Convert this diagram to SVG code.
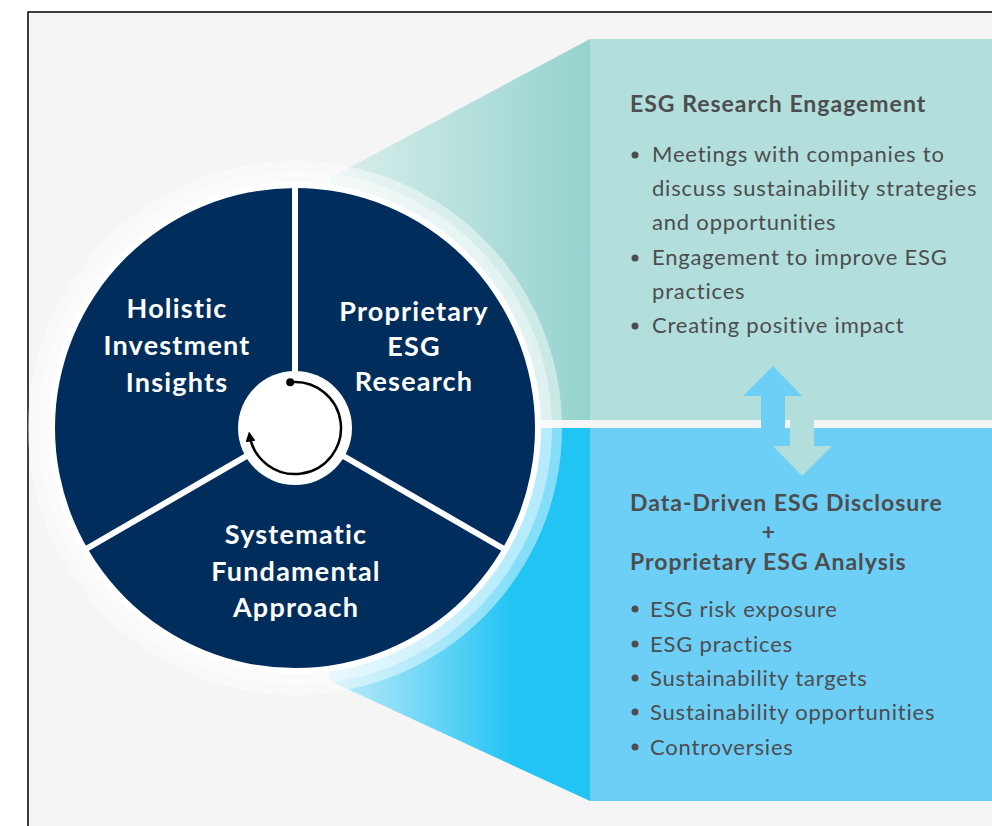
<svg xmlns="http://www.w3.org/2000/svg" width="992" height="826" viewBox="0 0 992 826">
<style>
.seg{font-family:Lato,"Open Sans","Liberation Sans",sans-serif;font-weight:700;font-size:27px;letter-spacing:1.2px;fill:#ffffff;text-anchor:middle}
.hd{font-family:Lato,"Open Sans","Liberation Sans",sans-serif;font-weight:700;font-size:23px;letter-spacing:1px;fill:#4d4d4f}
.bl{font-family:Lato,"Open Sans","Liberation Sans",sans-serif;font-weight:400;font-size:22px;letter-spacing:0.8px;fill:#4d4d4f}
.dot{fill:#4d4d4f}
</style>
<defs>
<linearGradient id="gTop" gradientUnits="userSpaceOnUse" x1="330" y1="0" x2="590" y2="0">
<stop offset="0" stop-color="#dbefed"/>
<stop offset="1" stop-color="#94d3cd"/>
</linearGradient>
<linearGradient id="gBot" gradientUnits="userSpaceOnUse" x1="330" y1="0" x2="590" y2="0">
<stop offset="0" stop-color="#c4ecf9"/>
<stop offset="0.7" stop-color="#22c4f4"/>
<stop offset="1" stop-color="#22c4f4"/>
</linearGradient>
<marker id="ah" viewBox="0 0 10 10" refX="6" refY="5" markerWidth="10" markerHeight="10" markerUnits="userSpaceOnUse" orient="auto">
<path d="M0,0 L10,5 L0,10 z" fill="#000"/>
</marker>
</defs>
<rect x="0" y="0" width="992" height="826" fill="#ffffff"/>
<rect x="28" y="12" width="980" height="830" fill="#f5f5f5" stroke="#000" stroke-width="1.5"/>

<g id="panel-top">
<polygon points="300,420 330,178 590,39 590,420" fill="url(#gTop)"/>
<rect x="590" y="39" width="402" height="381" fill="#b2dfdb"/>
</g>
<g id="panel-bottom">
<polygon points="300,428 590,428 590,801 330,681" fill="url(#gBot)"/>
<rect x="590" y="428" width="402" height="373" fill="#6dcff6"/>
</g>

<g id="wheel">
<circle cx="295" cy="428" r="267" fill="#ffffff" fill-opacity="0.45"/>
<circle cx="295" cy="428" r="257" fill="#ffffff" fill-opacity="0.4"/>
<circle cx="295" cy="428" r="246" fill="#ffffff"/>
<circle cx="295" cy="428" r="240" fill="#002d5c"/>
<g stroke="#ffffff" stroke-width="6">
<line x1="295" y1="428" x2="295" y2="186"/>
<line x1="295" y1="428" x2="86" y2="549"/>
<line x1="295" y1="428" x2="504" y2="549"/>
</g>
<circle cx="295" cy="428" r="57" fill="#ffffff"/>
<path d="M290.2,382.3 A46,46 0 1 1 249.6,435.5" fill="none" stroke="#000" stroke-width="2.5" marker-end="url(#ah)"/>
<circle cx="290.2" cy="382.3" r="4" fill="#000"/>
</g>

<g id="seg-holistic">
<text class="seg" x="177" y="318">Holistic</text>
<text class="seg" x="177" y="355">Investment</text>
<text class="seg" x="177" y="392">Insights</text>
</g>
<g id="seg-proprietary">
<text class="seg" x="414" y="321">Proprietary</text>
<text class="seg" x="414" y="356">ESG</text>
<text class="seg" x="414" y="391">Research</text>
</g>
<g id="seg-systematic">
<text class="seg" x="296" y="544">Systematic</text>
<text class="seg" x="296" y="581">Fundamental</text>
<text class="seg" x="296" y="617">Approach</text>
</g>

<g id="connectors">
<polygon points="790,396 814,396 814,446 832,446 802,476 773,446 790,446" fill="#b2dfdb"/>
<polygon points="773,366 802,396 785,396 785,446 761,446 761,396 743,396" fill="#6dcff6"/>
</g>

<g id="text-engagement">
<text class="hd" x="630" y="112">ESG Research Engagement</text>
<circle class="dot" cx="635" cy="155" r="3.5"/>
<text class="bl" x="652" y="162">Meetings with companies to</text>
<text class="bl" x="652" y="196">discuss sustainability strategies</text>
<text class="bl" x="652" y="230">and opportunities</text>
<circle class="dot" cx="635" cy="258" r="3.5"/>
<text class="bl" x="652" y="265">Engagement to improve ESG</text>
<text class="bl" x="652" y="299">practices</text>
<circle class="dot" cx="635" cy="326" r="3.5"/>
<text class="bl" x="652" y="333">Creating positive impact</text>
</g>

<g id="text-analysis">
<text class="hd" x="630" y="511">Data-Driven ESG Disclosure</text>
<text class="hd" x="769" y="540" text-anchor="middle">+</text>
<text class="hd" x="630" y="570">Proprietary ESG Analysis</text>
<circle class="dot" cx="635" cy="609" r="3.5"/>
<text class="bl" x="650" y="617">ESG risk exposure</text>
<circle class="dot" cx="635" cy="644" r="3.5"/>
<text class="bl" x="650" y="652">ESG practices</text>
<circle class="dot" cx="635" cy="678" r="3.5"/>
<text class="bl" x="650" y="686">Sustainability targets</text>
<circle class="dot" cx="635" cy="712" r="3.5"/>
<text class="bl" x="650" y="720">Sustainability opportunities</text>
<circle class="dot" cx="635" cy="747" r="3.5"/>
<text class="bl" x="650" y="755">Controversies</text>
</g>
</svg>
